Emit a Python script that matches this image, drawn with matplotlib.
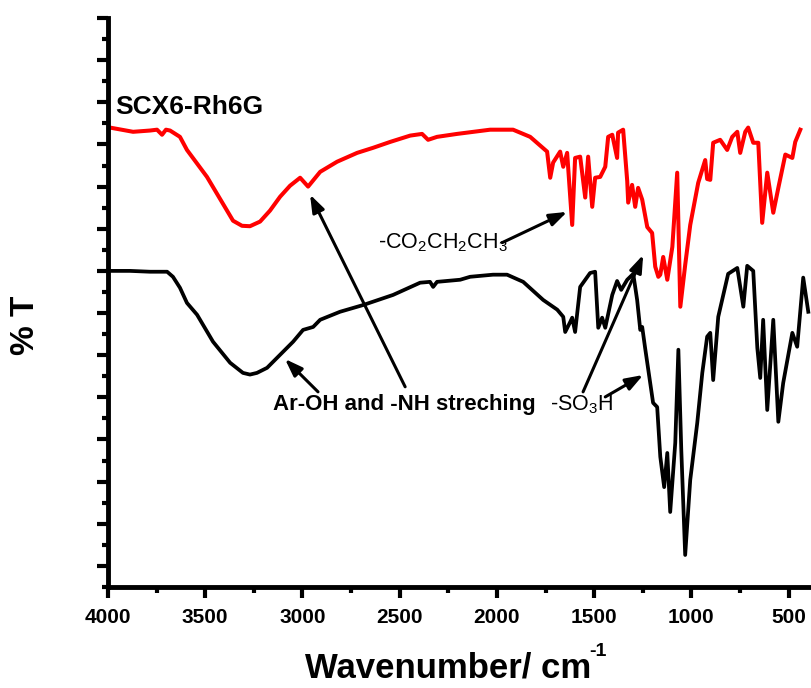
import numpy as np
import matplotlib
matplotlib.use('Agg')
import matplotlib.pyplot as plt

plt.rcParams['font.family'] = ['Liberation Sans', 'DejaVu Sans']
plt.rcParams['mathtext.fontset'] = 'custom'
plt.rcParams['mathtext.rm'] = 'Liberation Sans'
plt.rcParams['mathtext.bf'] = 'Liberation Sans:bold'

# FTIR spectra (wavenumber in cm-1, %T with arbitrary offset)
wn_black = [4000, 3887, 3784, 3696, 3666, 3630, 3594, 3542, 3460, 3372, 3306, 3270,
            3234, 3182, 3115, 3048, 2997, 2945, 2909, 2807, 2688, 2534, 2395, 2344,
            2328, 2308, 2189, 2138, 2020, 1948, 1865, 1762, 1690, 1659, 1649, 1623,
            1613, 1598, 1572, 1521, 1495, 1479, 1459, 1443, 1407, 1382, 1361, 1330,
            1299, 1279, 1263, 1253, 1238, 1197, 1176, 1160, 1140, 1124, 1109, 1083,
            1067, 1052, 1032, 1006, 970, 944, 919, 903, 888, 862, 811, 764, 733, 713,
            682, 661, 646, 631, 610, 579, 553, 528, 481, 456, 425, 399]
t_black = [75.0, 75.0, 74.8, 74.8, 73.6, 71.0, 67.4, 64.6, 58.2, 53.2, 50.8, 50.4,
           50.8, 52.0, 55.1, 58.2, 61.0, 61.7, 63.4, 65.3, 66.9, 69.3, 72.2, 72.4,
           71.2, 72.4, 72.9, 73.6, 74.1, 74.1, 72.4, 68.1, 65.8, 64.1, 60.5, 62.9,
           63.9, 60.5, 71.2, 74.5, 74.8, 61.5, 63.9, 61.5, 69.3, 72.6, 70.5, 72.9,
           74.3, 68.1, 61.0, 61.7, 56.7, 43.7, 42.7, 30.9, 23.7, 31.8, 17.8, 34.2,
           56.3, 32.5, 7.6, 25.4, 38.9, 50.8, 59.4, 60.3, 49.1, 64.1, 74.3, 75.7,
           66.5, 76.2, 75.0, 56.7, 49.6, 63.4, 42.0, 63.4, 39.2, 48.4, 60.3, 57.0,
           73.4, 65.3]

wn_red = [3990, 3871, 3784, 3748, 3722, 3702, 3681, 3630, 3594, 3491, 3357, 3311,
          3270, 3218, 3167, 3115, 3064, 3012, 2971, 2909, 2822, 2719, 2637, 2549,
          2446, 2385, 2354, 2308, 2205, 2035, 1917, 1829, 1742, 1726, 1711, 1675,
          1659, 1639, 1613, 1598, 1572, 1546, 1531, 1510, 1495, 1469, 1443, 1428,
          1407, 1382, 1377, 1351, 1330, 1325, 1305, 1289, 1274, 1253, 1227, 1202,
          1186, 1170, 1160, 1145, 1124, 1098, 1073, 1057, 1032, 1006, 965, 929, 919,
          903, 888, 852, 816, 790, 764, 749, 723, 708, 682, 656, 636, 610, 579,
          553, 517, 481, 466, 440]
t_red = [109.0, 108.0, 108.3, 108.5, 107.3, 108.5, 108.3, 106.8, 103.7, 97.3, 86.9, 85.7,
         85.6, 86.7, 89.3, 92.6, 95.2, 97.1, 95.0, 98.5, 100.9, 103.0, 104.2, 105.6,
         107.1, 107.5, 106.1, 106.8, 107.5, 108.5, 108.5, 106.8, 103.3, 97.1, 100.7, 103.3,
         99.7, 103.0, 85.9, 101.8, 102.1, 92.4, 102.1, 90.2, 97.1, 97.3, 99.7, 106.8,
         107.3, 101.8, 107.8, 108.5, 96.3, 91.2, 95.4, 90.2, 94.7, 91.9, 85.4, 84.0,
         76.0, 73.6, 74.1, 78.3, 72.9, 80.7, 98.3, 66.5, 76.4, 85.9, 95.9, 101.3, 96.8,
         96.6, 105.4, 106.1, 103.7, 106.8, 108.0, 103.0, 108.0, 109.0, 105.4, 105.4,
         86.4, 98.3, 88.8, 94.7, 102.6, 101.8, 105.6, 108.5]

fig = plt.figure(figsize=(8.11, 6.88), dpi=100)
ax = fig.add_axes([108/811, 1 - 587/688, 1 - 108/811, (587 - 18)/688])

ax.plot(wn_black, t_black, color='k', lw=2.7, solid_joinstyle='round')
ax.plot(wn_red, t_red, color='#ff0000', lw=2.9, solid_joinstyle='round')

# Axes limits and ticks
ax.set_xlim(4000, 385)
ax.set_ylim(0, 135)
ax.set_xticks(np.arange(4000, 399, -500))
ax.set_xticks(np.arange(3750, 399, -500), minor=True)
ax.set_yticks(np.arange(5, 136, 10))
ax.set_yticks(np.arange(0, 136, 10), minor=True)
ax.set_yticklabels([])

for s in ['top', 'right']:
    ax.spines[s].set_visible(False)
for s in ['left', 'bottom']:
    ax.spines[s].set_linewidth(3.5)

ax.tick_params(which='major', direction='out', length=8, width=3, pad=7,
               labelsize=15)
ax.tick_params(which='minor', direction='out', length=4.5, width=3)
for lab in ax.get_xticklabels():
    lab.set_fontweight('bold')

# Axis titles
fig.text(448/811, 1 - 668/688, 'Wavenumber/ cm', fontsize=25,
         fontweight='bold', ha='center', va='center')
fig.text(589/811, 1 - 652/688, '-1', fontsize=14, fontweight='bold',
         ha='left', va='center')
fig.text(25/811, 1 - 325/688, '% T', fontsize=24, fontweight='bold',
         rotation=90, ha='center', va='center')

# Labels and band assignments
ax.text(3964, 114.0, 'SCX6-Rh6G', fontsize=19, fontweight='bold', va='center')
ax.text(3151, 43.2, 'Ar-OH and -NH streching', fontsize=16, fontweight='bold',
        va='center')
ax.text(2611, 81.7, r'-CO$_2$CH$_2$CH$_3$', fontsize=15.5, va='center')
ax.text(1726, 43.2, r'-SO$_3$H', fontsize=15.5, va='center')

arrow = dict(arrowstyle='-|>,head_length=0.7,head_width=0.25', color='k',
             lw=2.2, shrinkA=0, shrinkB=0, mutation_scale=15)
ax.annotate('', xy=(3090, 54.1), xytext=(2920, 46.3), arrowprops=arrow)
ax.annotate('', xy=(2961, 93.1), xytext=(2472, 47.5), arrowprops=arrow)
ax.annotate('', xy=(1639, 89.0), xytext=(1973, 81.7), arrowprops=arrow)
ax.annotate('', xy=(1248, 78.8), xytext=(1557, 46.3), arrowprops=arrow)
ax.annotate('', xy=(1248, 50.3), xytext=(1443, 45.1), arrowprops=arrow)

plt.savefig('out.png', dpi=100)
